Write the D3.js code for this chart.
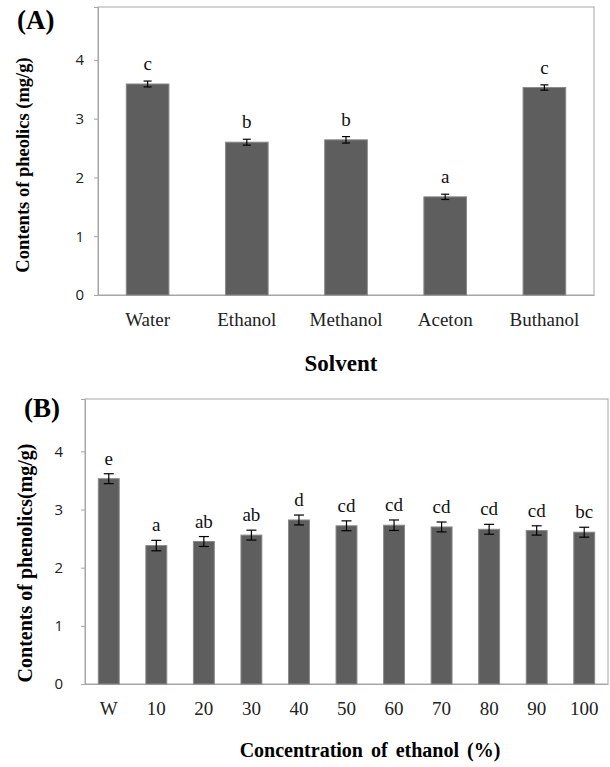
<!DOCTYPE html>
<html>
<head>
<meta charset="utf-8">
<script src="https://cdn.jsdelivr.net/npm/d3@7"></script>
<style>
  body { margin: 0; background: #fff; }
  .serif { font-family: "Liberation Serif", "DejaVu Serif", serif; }
  .tick text { font-family: "Open Sans", "Noto Sans", sans-serif; font-size: 15px; fill: #222; }
</style>
</head>
<body>
<div id="chart"></div>
<script>
// panel A data
const solvents = ["Water", "Ethanol", "Methanol", "Aceton", "Buthanol"];
const solventMeans = [3.59, 2.60, 2.64, 1.67, 3.53];
const solventErr = [0.05, 0.05, 0.055, 0.045, 0.045];
const solventLetters = ["c", "b", "b", "a", "c"];

// panel B data
const concs = ["W", "10", "20", "30", "40", "50", "60", "70", "80", "90", "100"];
const concMeans = [3.53, 2.38, 2.45, 2.56, 2.82, 2.72, 2.73, 2.70, 2.66, 2.64, 2.61];
const concErr = [0.085, 0.09, 0.085, 0.085, 0.085, 0.085, 0.09, 0.085, 0.085, 0.08, 0.085];
const concLetters = ["e", "a", "ab", "ab", "d", "cd", "cd", "cd", "cd", "cd", "bc"];

const yTicks = [0, 1, 2, 3, 4];

const svg = d3.select("#chart").append("svg")
    .attr("width", 610)
    .attr("height", 767);

svg.append("rect").attr("width", 610).attr("height", 767).attr("fill", "#fff");

// draws one bar panel
function panel(opt) {
    const g = svg.append("g");
    const x = d3.scaleBand().domain(opt.cats).range([opt.left, opt.right]).paddingInner(opt.pad).paddingOuter(opt.pad / 2);
    const y = d3.scaleLinear().domain([0, 4.9]).range([opt.bottom, opt.top]);

    // plot area frame
    g.append("rect")
        .attr("x", opt.left).attr("y", opt.top)
        .attr("width", opt.right - opt.left).attr("height", opt.bottom - opt.top)
        .attr("fill", "none").attr("stroke", "#a6a6a6");

    const yAxis = g.append("g")
        .attr("transform", "translate(" + opt.left + ",0)")
        .call(d3.axisLeft(y).tickValues(yTicks).tickFormat(d3.format("d")).tickSize(4).tickPadding(opt.tickPad));
    yAxis.select(".domain").attr("stroke", "#a6a6a6");
    yAxis.selectAll(".tick line").attr("stroke", "#a6a6a6");

    const xAxis = g.append("g")
        .attr("transform", "translate(0," + opt.bottom + ")")
        .call(d3.axisBottom(x).tickSize(0).tickPadding(opt.xPad));
    xAxis.select(".domain").attr("stroke", "#a6a6a6");
    xAxis.selectAll("text")
        .attr("class", "serif")
        .style("font-family", '"Liberation Serif", serif')
        .style("font-size", "19px")
        .attr("fill", "#111");

    const data = opt.cats.map((c, i) => ({ c: c, v: opt.means[i], e: opt.err[i], l: opt.letters[i] }));

    g.selectAll(".bar").data(data).enter().append("rect")
        .attr("x", d => x(d.c))
        .attr("y", d => y(d.v))
        .attr("width", x.bandwidth())
        .attr("height", d => y(0) - y(d.v))
        .attr("fill", "#5e5e5e")
        .attr("stroke", "#8a8a8a")
        .attr("stroke-width", 1);

    // error bars
    const cx = d => x(d.c) + x.bandwidth() / 2;
    const eb = g.selectAll(".err").data(data).enter().append("g").attr("stroke", "#000").attr("stroke-width", 1.2);
    eb.append("line").attr("x1", cx).attr("x2", cx).attr("y1", d => y(d.v + d.e)).attr("y2", d => y(d.v - d.e));
    eb.append("line").attr("x1", d => cx(d) - opt.cap).attr("x2", d => cx(d) + opt.cap)
        .attr("y1", d => y(d.v + d.e)).attr("y2", d => y(d.v + d.e));
    eb.append("line").attr("x1", d => cx(d) - opt.cap).attr("x2", d => cx(d) + opt.cap)
        .attr("y1", d => y(d.v - d.e)).attr("y2", d => y(d.v - d.e));

    g.selectAll(".letter").data(data).enter().append("text")
        .attr("class", "serif")
        .attr("x", cx)
        .attr("y", d => y(d.v + d.e) - opt.letterGap)
        .attr("text-anchor", "middle")
        .attr("font-size", "19px")
        .attr("fill", "#111")
        .text(d => d.l);

    // titles
    g.append("text").attr("class", "serif")
        .attr("transform", "translate(" + opt.yTitleX + "," + opt.yTitleY + ") rotate(-90)")
        .attr("text-anchor", "middle").attr("font-weight", "bold").attr("font-size", opt.yTitleSize)
        .text(opt.yTitle);
    g.append("text").attr("class", "serif")
        .attr("x", opt.xTitleX).attr("y", opt.xTitleY)
        .attr("text-anchor", "middle").attr("font-weight", "bold").attr("font-size", opt.xTitleSize)
        .style("word-spacing", opt.wordSpacing || "0px")
        .text(opt.xTitle);
    g.append("text").attr("class", "serif")
        .attr("x", opt.tagX).attr("y", opt.tagY)
        .attr("font-weight", "bold").attr("font-size", "27px")
        .text(opt.tag);
}

panel({
    cats: solvents, means: solventMeans, err: solventErr, letters: solventLetters,
    left: 98, right: 594, top: 7, bottom: 295, pad: 0.57, cap: 4, tickPad: 10, xPad: 18,
    letterGap: 11,
    yTitle: "Contents of pheolics (mg/g)", yTitleX: 29, yTitleY: 165, yTitleSize: "18.5px",
    xTitle: "Solvent", xTitleX: 341, xTitleY: 371, xTitleSize: "23px",
    tag: "(A)", tagX: 17, tagY: 29
});

panel({
    cats: concs, means: concMeans, err: concErr, letters: concLetters,
    left: 85, right: 608, top: 399, bottom: 684, pad: 0.56, cap: 5, tickPad: 18, xPad: 18,
    letterGap: 9,
    yTitle: "Contents of phenolics(mg/g)", yTitleX: 32, yTitleY: 563, yTitleSize: "20px",
    xTitle: "Concentration of ethanol (%)", xTitleX: 370, xTitleY: 757, xTitleSize: "20px", wordSpacing: "3px",
    tag: "(B)", tagX: 24, tagY: 417
});
</script>
</body>
</html>
